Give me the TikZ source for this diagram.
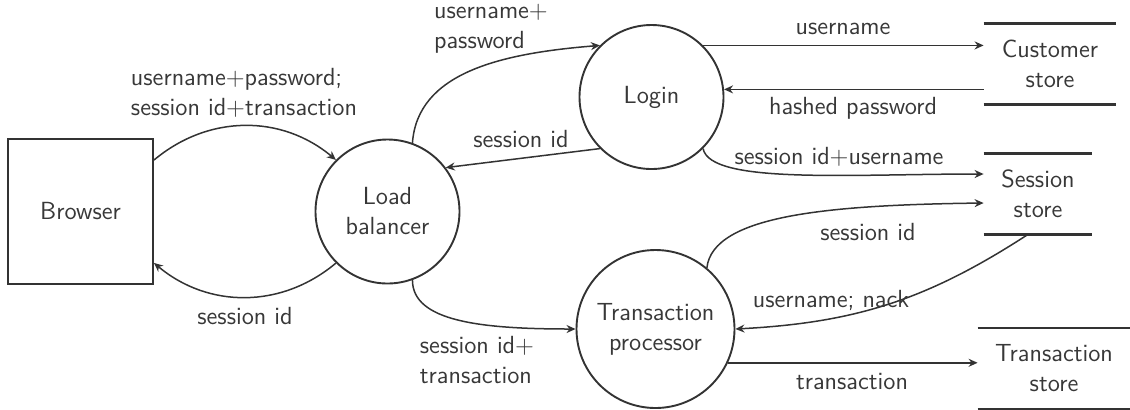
\documentclass[tikz,border=0pt]{standalone}
\usetikzlibrary{arrows.meta}
\definecolor{ink}{gray}{0.2}
\definecolor{txt}{gray}{0.22}
\tikzset{
  x=0.5pt, y=0.5pt,
  every node/.style={font=\sffamily\fontsize{12.4}{15}\selectfont, text=txt},
  process/.style={draw=ink, line width=0.95pt, circle, inner sep=0pt, minimum size=72pt, align=center},
  entity/.style={draw=ink, line width=0.95pt, rectangle, inner sep=0pt, minimum size=72.5pt},
  store/.style={inner sep=0pt, minimum height=40pt, align=center},
  storeline/.style={draw=ink, line width=1.3pt},
  flow/.style={draw=ink, line width=0.75pt, -{Stealth[length=4.5pt,width=4pt]}},
  lbl/.style={inner sep=0pt},
}
\begin{document}
\begin{tikzpicture}
\useasboundingbox (0,0) rectangle (1130,-409);

% external entity and processes
\node[entity]  (browser) at (80.5,-211.5) {Browser};
\node[process] (lb)      at (387.5,-211.5) {Load\\balancer};
\node[process] (login)   at (651.5,-97) {Login};
\node[process, minimum size=79pt] (tp) at (655.5,-329) {Transaction\\processor};

% data stores
\node[store, minimum width=66pt] (cust)   at (1050,-64)    {Customer\\store};
\node[store, minimum width=54pt] (ses)    at (1038,-194)   {Session\\store};
\node[store, minimum width=76pt] (tstore) at (1054,-368.5) {Transaction\\store};
\foreach \s in {cust,ses,tstore}{
  \draw[storeline] (\s.north west) -- (\s.north east);
  \draw[storeline] (\s.south west) -- (\s.south east);
}

% flows
\draw[flow] (browser.35) to[out=40,in=140] (lb.135);
\draw[flow] (lb.225) to[out=220,in=-40] (browser.-35);
\draw[flow] (lb.70) .. controls +(5,70) and +(-100,-8) .. (login.135);
\draw[flow] (login.225) -- (lb.37);
\draw[flow] (login.45) -- (login.45 -| cust.west);
\draw[flow] (cust.west |- login.6) -- (login.6);
\draw[flow] (login.-45) .. controls +(7,-36) and +(-133,0) .. ([yshift=10pt]ses.west);
\draw[flow] (tp.50) .. controls +(6,53) and +(-153,-2) .. ([yshift=-4.5pt]ses.west);
\draw[flow] ([xshift=-5pt]ses.south) to[out=213,in=3] (tp.east);
\draw[flow] (lb.-70) .. controls +(0,-41) and +(-96,0) .. (tp.west);
\draw[flow] (tp.-25) -- (tp.-25 -| tstore.west);

% flow labels
\node[lbl, align=left] (l1) at (244,-93) {username+password;\\session id+transaction};
\node[lbl] (l2) at (245,-316) {session id};
\node[lbl, align=left] (l3) at (491,-29) {username+\\password};
\node[lbl] (l4) at (521,-139) {session id};
\node[lbl] (l5) at (843,-29) {username};
\node[lbl] (l6) at (853,-108) {hashed password};
\node[lbl] (l7) at (839,-157) {session id+username};
\node[lbl] (l8) at (868,-232) {session id};
\node[lbl] (l9) at (831,-300) {username; nack};
\node[lbl, align=left] (l10) at (477,-360) {session id+\\transaction};
\node[lbl] (l11) at (852,-382) {transaction};
\end{tikzpicture}
\end{document}
